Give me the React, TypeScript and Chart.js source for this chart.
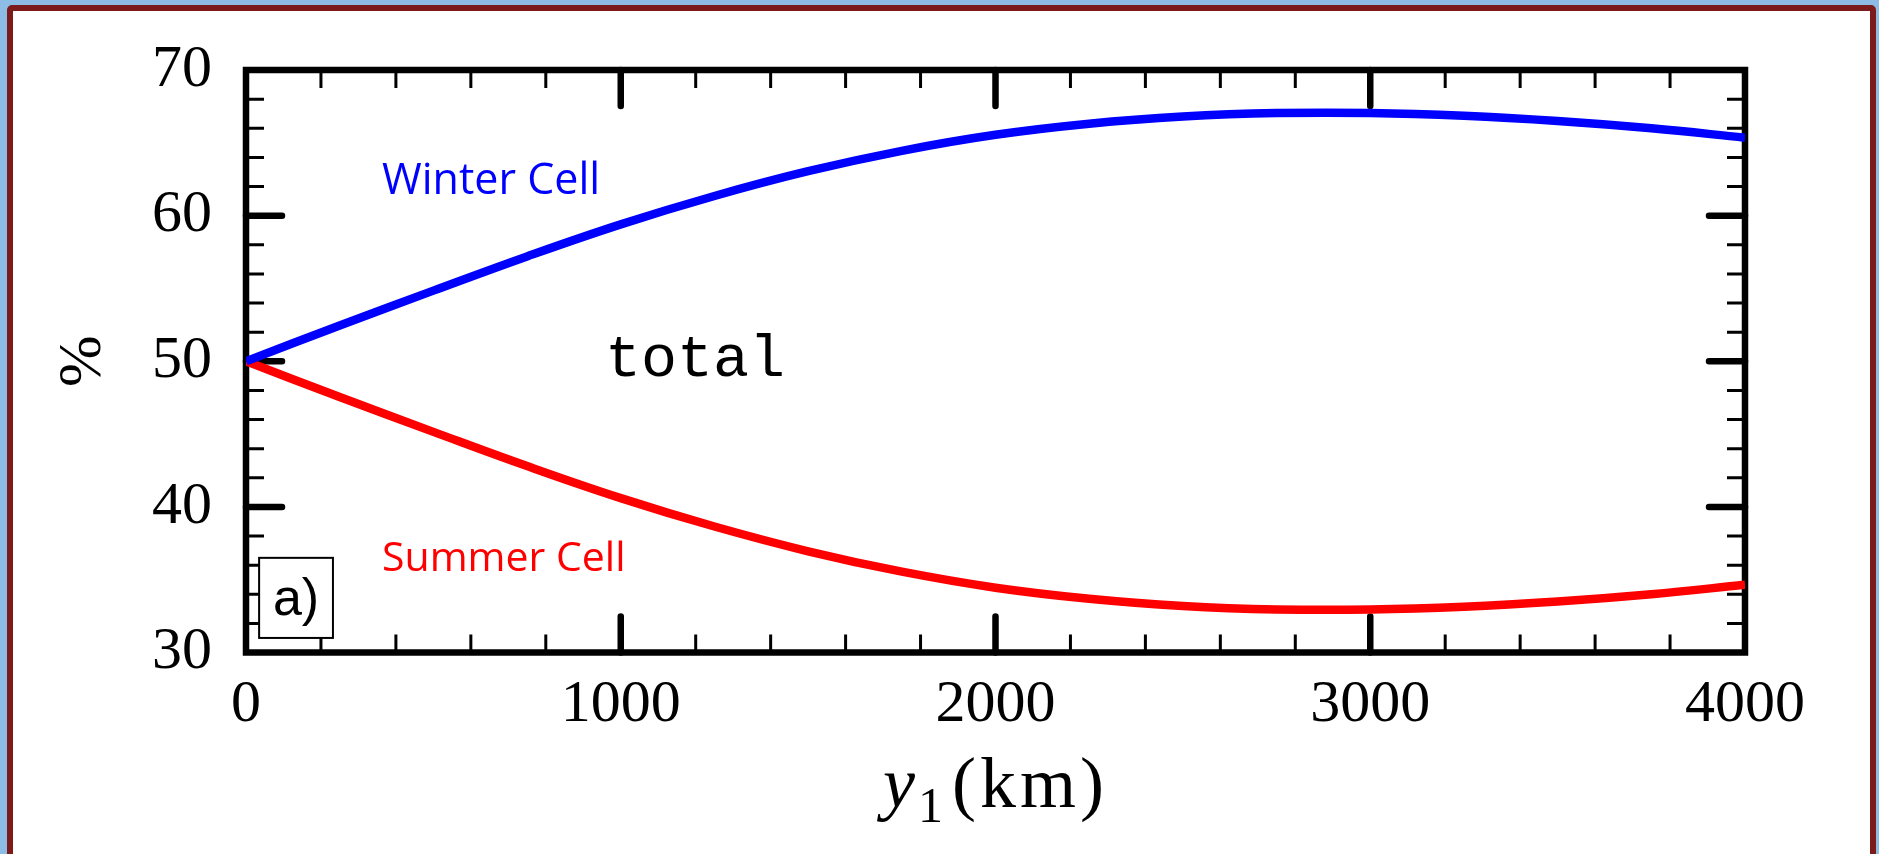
import React, { useEffect, useRef } from 'react';
import { Chart, registerables } from 'chart.js';

Chart.register(...registerables);

// ---- data ----
const distanceKm = [0, 250, 500, 750, 1000, 1250, 1500, 1750, 2000, 2250, 2500, 2750, 3000, 3250, 3500, 3750, 4000];
const winterCell = [50.0, 52.46, 54.85, 57.2, 59.4, 61.35, 63.05, 64.45, 65.55, 66.31, 66.8, 67.04, 67.05, 66.86, 66.5, 66.0, 65.35];
const summerCell = [50.0, 47.54, 45.15, 42.8, 40.6, 38.65, 36.95, 35.55, 34.45, 33.69, 33.2, 32.96, 32.95, 33.14, 33.5, 34.0, 34.65];

const xTickValues = [0, 1000, 2000, 3000, 4000];
const xTickLabels = ['0', '1000', '2000', '3000', '4000'];
const yTickValues = [30, 40, 50, 60, 70];
const yTickLabels = ['30', '40', '50', '60', '70'];
const xMinorStep = 200;
const yMinorStep = 2;

const seriesNames = ['Winter Cell', 'Summer Cell'];
const panelLabel = 'a)';
const panelTitle = 'total';
const yAxisTitle = '%';
const xAxisTitle = { variable: 'y', subscript: '1', unit: '(km)' };

const SERIF = '"Liberation Serif", "Times New Roman", serif';

const framePlugin = {
  id: 'frameTicks',
  beforeDatasetsDraw(chart: any) {
    const { ctx, chartArea: a, scales } = chart;
    const xs = scales.x;
    const ys = scales.y;
    ctx.save();
    ctx.strokeStyle = '#000';
    // minor ticks (inward, all four sides)
    ctx.lineWidth = 3;
    ctx.lineCap = 'butt';
    const minorLen = 18;
    for (let v = xs.min; v <= xs.max; v += xMinorStep) {
      if (xTickValues.includes(v)) continue;
      const px = xs.getPixelForValue(v);
      ctx.beginPath();
      ctx.moveTo(px, a.bottom); ctx.lineTo(px, a.bottom - minorLen);
      ctx.moveTo(px, a.top); ctx.lineTo(px, a.top + minorLen);
      ctx.stroke();
    }
    for (let v = ys.min; v <= ys.max; v += yMinorStep) {
      if (yTickValues.includes(v)) continue;
      const py = ys.getPixelForValue(v);
      ctx.beginPath();
      ctx.moveTo(a.left, py); ctx.lineTo(a.left + minorLen, py);
      ctx.moveTo(a.right, py); ctx.lineTo(a.right - minorLen, py);
      ctx.stroke();
    }
    // major ticks
    ctx.lineWidth = 6.5;
    ctx.lineCap = 'round';
    const majorLen = 36;
    xTickValues.forEach((v) => {
      if (v === xs.min || v === xs.max) return;
      const px = xs.getPixelForValue(v);
      ctx.beginPath();
      ctx.moveTo(px, a.bottom); ctx.lineTo(px, a.bottom - majorLen);
      ctx.moveTo(px, a.top); ctx.lineTo(px, a.top + majorLen);
      ctx.stroke();
    });
    yTickValues.forEach((v) => {
      if (v === ys.min || v === ys.max) return;
      const py = ys.getPixelForValue(v);
      ctx.beginPath();
      ctx.moveTo(a.left, py); ctx.lineTo(a.left + majorLen, py);
      ctx.moveTo(a.right, py); ctx.lineTo(a.right - majorLen, py);
      ctx.stroke();
    });
    // frame
    ctx.lineCap = 'butt';
    ctx.lineJoin = 'miter';
    ctx.lineWidth = 6.5;
    ctx.strokeRect(a.left, a.top, a.right - a.left, a.bottom - a.top);
    ctx.restore();
  },
  afterDraw(chart: any) {
    const { ctx, chartArea: a, scales } = chart;
    const xs = scales.x;
    const ys = scales.y;
    ctx.save();
    ctx.textBaseline = 'alphabetic';
    ctx.textAlign = 'left';

    // series labels
    ctx.font = '43px "Open Sans", sans-serif';
    ctx.fillStyle = '#0000ff';
    ctx.fillText(seriesNames[0], xs.getPixelForValue(363), ys.getPixelForValue(61.49));
    ctx.font = '41px "Open Sans", sans-serif';
    ctx.fillStyle = '#ff0000';
    ctx.fillText(seriesNames[1], xs.getPixelForValue(363), ys.getPixelForValue(35.62));

    // panel title
    ctx.fillStyle = '#000';
    ctx.font = '60px "Liberation Mono", monospace';
    ctx.fillText(panelTitle, xs.getPixelForValue(958), ys.getPixelForValue(48.96));

    // panel label box
    const bx0 = xs.getPixelForValue(35);
    const bx1 = xs.getPixelForValue(232);
    const by0 = ys.getPixelForValue(36.5);
    const by1 = ys.getPixelForValue(31.0);
    ctx.fillStyle = '#fff';
    ctx.fillRect(bx0, by0, bx1 - bx0, by1 - by0);
    ctx.strokeStyle = '#000';
    ctx.lineWidth = 2;
    ctx.strokeRect(bx0, by0, bx1 - bx0, by1 - by0);
    ctx.fillStyle = '#000';
    ctx.font = '52px "Liberation Sans", Arial, sans-serif';
    ctx.textAlign = 'center';
    ctx.textBaseline = 'middle';
    ctx.fillText(panelLabel, (bx0 + bx1) / 2, (by0 + by1) / 2 + 3);

    // x axis title: y_1(km)
    ctx.textAlign = 'left';
    ctx.textBaseline = 'alphabetic';
    const fMain = '72px ' + SERIF;
    const fIt = 'italic 72px ' + SERIF;
    const fSub = '50px ' + SERIF;
    ctx.font = fIt; const wY = ctx.measureText(xAxisTitle.variable).width;
    ctx.font = fSub; const w1 = ctx.measureText(xAxisTitle.subscript).width;
    ctx.font = fMain;
    (ctx as any).letterSpacing = '4px';
    const wK = ctx.measureText(xAxisTitle.unit).width;
    (ctx as any).letterSpacing = '0px';
    const gap1 = 3;
    const gap2 = 9;
    const total = wY + gap1 + w1 + gap2 + wK;
    const cx = (a.left + a.right) / 2;
    const base = a.bottom + 154.5;
    let x0 = cx - total / 2;
    ctx.font = fIt; ctx.fillText(xAxisTitle.variable, x0, base); x0 += wY + gap1;
    ctx.font = fSub; ctx.fillText(xAxisTitle.subscript, x0, base + 15); x0 += w1 + gap2;
    ctx.font = fMain;
    (ctx as any).letterSpacing = '4px';
    ctx.fillText(xAxisTitle.unit, x0, base);
    (ctx as any).letterSpacing = '0px';
    ctx.restore();
  },
};

export default function App() {
  const canvasRef = useRef<HTMLCanvasElement | null>(null);

  useEffect(() => {
    const canvas = canvasRef.current;
    if (!canvas) return;
    const chart = new Chart(canvas, {
      type: 'line',
      data: {
        datasets: [
          {
            label: seriesNames[0],
            data: distanceKm.map((d, i) => ({ x: d, y: winterCell[i] })),
            borderColor: '#0000ff',
            borderWidth: 8.5,
            pointRadius: 0,
            cubicInterpolationMode: 'default',
            tension: 0.4,
            fill: false,
          },
          {
            label: seriesNames[1],
            data: distanceKm.map((d, i) => ({ x: d, y: summerCell[i] })),
            borderColor: '#ff0000',
            borderWidth: 8.5,
            pointRadius: 0,
            tension: 0.4,
            fill: false,
          },
        ],
      },
      options: {
        animation: false,
        responsive: false,
        devicePixelRatio: 1,
        layout: { padding: { top: 65, right: 134, bottom: 0, left: 0 } },
        plugins: {
          legend: { display: false },
          tooltip: { enabled: false },
        },
        scales: {
          x: {
            type: 'linear',
            min: 0,
            max: 4000,
            grid: { display: false, drawTicks: false },
            border: { display: false },
            afterBuildTicks: (s: any) => { s.ticks = xTickValues.map((v) => ({ value: v })); },
            ticks: {
              autoSkip: false,
              maxRotation: 0,
              padding: 17,
              color: '#000',
              font: { family: SERIF, size: 60 },
              callback: (v: any) => xTickLabels[xTickValues.indexOf(Number(v))] ?? '',
            },
            afterFit: (s: any) => { s.height = 201.5; },
          },
          y: {
            type: 'linear',
            min: 30,
            max: 70,
            grid: { display: false, drawTicks: false },
            border: { display: false },
            afterBuildTicks: (s: any) => { s.ticks = yTickValues.map((v) => ({ value: v })); },
            ticks: {
              autoSkip: false,
              padding: 34,
              color: '#000',
              font: { family: SERIF, size: 60 },
              callback: (v: any) => yTickLabels[yTickValues.indexOf(Number(v))] ?? '',
            },
            title: {
              display: true,
              text: yAxisTitle,
              color: '#000',
              font: { family: SERIF, size: 62 },
              padding: { top: 47, bottom: 0 },
            },
            afterFit: (s: any) => { s.width = 246; },
          },
        },
      },
      plugins: [framePlugin],
    });
    return () => chart.destroy();
  }, []);

  return (
    <div style={{ position: 'fixed', left: 0, top: 0, width: 1879, height: 854, background: '#8dbce4', overflow: 'hidden' }}>
      <div
        style={{
          position: 'absolute',
          left: 7,
          top: 5,
          width: 1869,
          height: 900,
          boxSizing: 'border-box',
          border: '6px solid #7b1c1a',
          borderRadius: 5,
          background: '#ffffff',
        }}
      />
      <canvas ref={canvasRef} width={1879} height={854} style={{ position: 'absolute', left: 0, top: 0, width: 1879, height: 854 }} />
    </div>
  );
}
